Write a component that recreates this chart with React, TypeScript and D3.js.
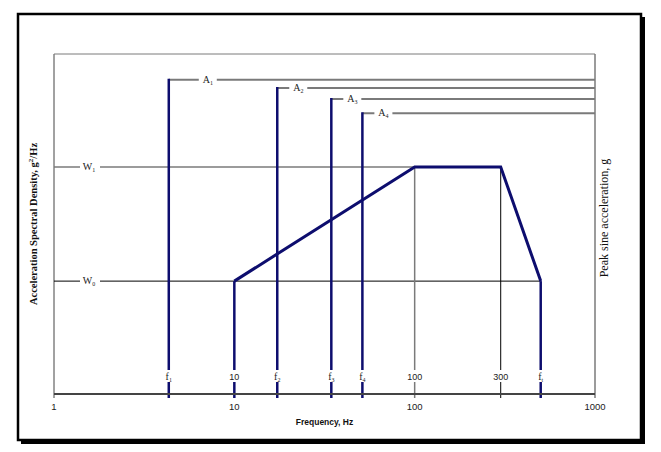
import React from 'react';
import * as d3 from 'd3';

// frequencies (Hz) on the log axis
const freqTicks = [1, 10, 100, 1000];
const markFreqs = [4.33, 17.3, 34.5, 51.3]; // f1..f4
const ampLevels = [92.4, 90, 86.8, 82.6]; // A1..A4, arbitrary units
const ampNames = ['1', '2', '3', '4'];
const profileFreq = [10, 100, 300, 500];
const profileLevel = [33.2, 66.8, 66.8, 33.2]; // W0, W1, W1, W0
const psdLevels = [33.2, 66.8];
const psdNames = ['0', '1'];
const innerLabels = [
  { f: 4.33, main: 'f', sub: '1' },
  { f: 10, main: '10', sub: '' },
  { f: 17.3, main: 'f', sub: '2' },
  { f: 34.5, main: 'f', sub: '3' },
  { f: 51.3, main: 'f', sub: '4' },
  { f: 100, main: '100', sub: '' },
  { f: 300, main: '300', sub: '' },
  { f: 500, main: 'f', sub: 't' },
];

const NAVY = '#0d0d6e';
const GREY = '#7a7a7a';
const serif = '"Liberation Serif", "DejaVu Serif", serif';
const sans = '"Liberation Sans", Arial, sans-serif';

const App = () => {
  const margin = { top: 54, right: 66, bottom: 58, left: 54 };
  const W = 661;
  const H = 452;

  const x = d3.scaleLog().domain([1, 1000]).range([margin.left, W - margin.right]);
  const y = d3.scaleLinear().domain([0, 100]).range([H - margin.bottom, margin.top]);

  const x0 = x(1);
  const x1 = x(1000);
  const yB = y(0);
  const yT = y(100);
  const labelY = yB - 16;

  const profile = d3
    .line<number>()
    .x((_, i) => x(profileFreq[i]))
    .y((_, i) => y(profileLevel[i]));

  const sub = (s: string) => (
    <tspan fontSize={6} dy={2}>{s}</tspan>
  );

  return (
    <svg width={W} height={H} style={{ position: 'absolute', left: 0, top: 0, background: '#fff' }}>
      {/* outer frame with shadow */}
      <rect x={18} y={14} width={623} height={426} fill="none" stroke="#000" strokeWidth={2.5} />
      <rect x={641} y={17} width={4} height={427} fill="#000" />
      <rect x={21} y={440} width={624} height={4} fill="#000" />

      {/* plot box */}
      <line x1={x0} x2={x0} y1={yT} y2={yB + 4} stroke="#444" strokeWidth={1} />
      <line x1={x0} x2={x1} y1={yT} y2={yT} stroke={GREY} strokeWidth={1} />
      <line x1={x1} x2={x1} y1={yT} y2={yB + 4} stroke={GREY} strokeWidth={1.5} />

      {/* W levels */}
      <line x1={x0} x2={x(100)} y1={y(psdLevels[1])} y2={y(psdLevels[1])} stroke={GREY} strokeWidth={1.5} />
      <line x1={x0} x2={x(500)} y1={y(psdLevels[0])} y2={y(psdLevels[0])} stroke="#000" strokeWidth={1} />

      {/* reference verticals at 100 and 300 */}
      <line x1={x(100)} x2={x(100)} y1={y(psdLevels[1])} y2={yB + 4} stroke={GREY} strokeWidth={1.5} />
      <line x1={x(300)} x2={x(300)} y1={y(psdLevels[1])} y2={yB + 4} stroke="#000" strokeWidth={1} />

      {/* A levels */}
      {ampLevels.map((a, i) => (
        <line key={'a' + i} x1={x(markFreqs[i])} x2={x1} y1={y(a)} y2={y(a)} stroke={GREY} strokeWidth={2} />
      ))}

      {/* f marker verticals */}
      {markFreqs.map((f, i) => (
        <line key={'f' + i} x1={x(f)} x2={x(f)} y1={y(ampLevels[i]) - 1} y2={yB + 4} stroke={NAVY} strokeWidth={2.5} />
      ))}

      {/* PSD profile */}
      <line x1={x(10)} x2={x(10)} y1={y(profileLevel[0])} y2={yB + 4} stroke={NAVY} strokeWidth={2.5} />
      <line x1={x(500)} x2={x(500)} y1={y(profileLevel[3])} y2={yB + 4} stroke={NAVY} strokeWidth={2.5} />
      <path d={profile(profileFreq) || ''} fill="none" stroke={NAVY} strokeWidth={3} strokeLinejoin="miter" />

      {/* x axis */}
      <line x1={x0} x2={x1} y1={yB} y2={yB} stroke="#444" strokeWidth={2} />
      {freqTicks.map((t) => (
        <text key={'t' + t} x={x(t)} y={yB + 16} textAnchor="middle" fontFamily={sans} fontSize={9.5} fill="#222">
          {t}
        </text>
      ))}
      <text x={(x0 + x1) / 2} y={yB + 31} textAnchor="middle" fontFamily={sans} fontSize={8.5} fontWeight="bold" fill="#111">
        Frequency, Hz
      </text>

      {/* inner labels on verticals */}
      {innerLabels.map((l, i) => (
        <g key={'il' + i}>
          <rect x={x(l.f) - (l.sub ? 5 : l.main.length * 3 + 1)} y={labelY - 8} width={l.sub ? 10 : l.main.length * 6 + 2} height={12} fill="#fff" />
          <text x={x(l.f)} y={labelY + 2} textAnchor="middle" fontFamily={l.sub ? serif : sans} fontSize={l.sub ? 10 : 9} fill="#222">
            {l.main}
            {l.sub ? sub(l.sub) : null}
          </text>
        </g>
      ))}

      {/* A labels */}
      {ampLevels.map((a, i) => {
        const cx = x(markFreqs[i]) + (i === 0 ? 39 : 21);
        return (
          <g key={'al' + i}>
            <rect x={cx - 9} y={y(a) - 6} width={18} height={12} fill="#fff" />
            <text x={cx} y={y(a) + 3} textAnchor="middle" fontFamily={serif} fontSize={10} fill="#222">
              A{sub(ampNames[i])}
            </text>
          </g>
        );
      })}

      {/* W labels */}
      {psdLevels.map((w, i) => (
        <g key={'wl' + i}>
          <rect x={80} y={y(w) - 6} width={20} height={12} fill="#fff" />
          <text x={89} y={y(w) + 3} textAnchor="middle" fontFamily={serif} fontSize={10} fill="#222">
            W{sub(psdNames[i])}
          </text>
        </g>
      ))}

      {/* axis titles */}
      <text
        transform={`translate(37, ${(yT + yB) / 2}) rotate(-90)`}
        textAnchor="middle"
        fontFamily={serif}
        fontSize={10.5}
        fontWeight="bold"
        fill="#111"
      >
        Acceleration Spectral Density, g<tspan fontSize={7} dy={-4}>2</tspan>
        <tspan dy={4}>/Hz</tspan>
      </text>
      <text
        transform={`translate(608, ${(yT + yB) / 2 - 6}) rotate(-90)`}
        textAnchor="middle"
        fontFamily={serif}
        fontSize={12}
        fill="#111"
      >
        Peak sine acceleration, g
      </text>
    </svg>
  );
};

export default App;
